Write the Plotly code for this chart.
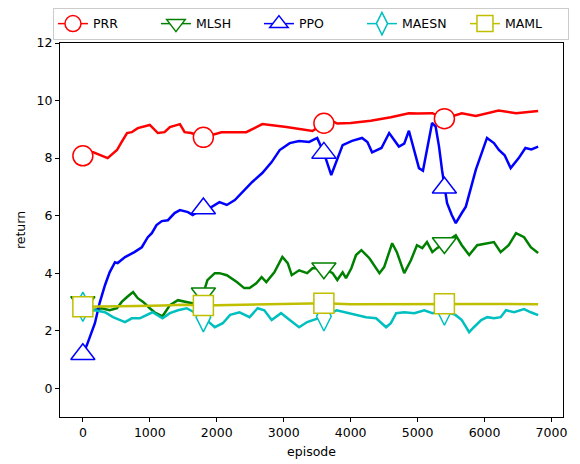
import plotly.graph_objects as go

# ---- data ----
prr_ep = [0, 150, 370, 510, 580, 660, 730, 820, 1000, 1120, 1220, 1300, 1450, 1520, 1620, 1800,
          2070, 2440, 2680, 3040, 3430, 3500, 3600, 3700, 3800, 4000, 4300, 4600, 4870, 5000, 5220,
          5400, 5500, 5660, 5870, 6040, 6210, 6470, 6700, 6800]
prr_val = [8.08, 8.21, 8.0, 8.28, 8.56, 8.87, 8.9, 9.04, 9.15, 8.87, 8.9, 9.08, 9.18, 8.9, 8.87, 8.72,
           8.9, 8.9, 9.18, 9.08, 8.94, 9.05, 9.21, 9.32, 9.2, 9.22, 9.3, 9.42, 9.56, 9.55, 9.56,
           9.37, 9.45, 9.56, 9.46, 9.55, 9.65, 9.56, 9.62, 9.64]

mlsh_ep = [0, 150, 280, 400, 510, 580, 660, 750, 820, 900, 1000, 1070, 1190, 1300, 1420, 1550, 1700,
           1800, 1860, 1970, 2040, 2150, 2300, 2410, 2490, 2590, 2670, 2740, 2860, 2980, 3060, 3120,
           3230, 3350, 3430, 3600, 3730, 3800, 3880, 3930, 4010, 4080, 4160, 4280, 4430, 4500, 4620,
           4690, 4800, 4900, 4990, 5070, 5140, 5220, 5290, 5400, 5570, 5660, 5770, 5890, 6020, 6140,
           6240, 6360, 6470, 6590, 6690, 6800]
mlsh_val = [3.0, 2.71, 2.78, 2.71, 2.78, 3.0, 3.17, 3.34, 3.13, 3.0, 2.78, 2.64, 2.5, 2.89, 3.06, 3.0, 2.92,
            3.3, 3.76, 4.0, 4.0, 3.93, 3.69, 3.48, 3.48, 3.65, 3.86, 3.69, 4.03, 4.56, 4.35, 3.93,
            4.1, 4.0, 4.17, 4.17, 4.0, 3.76, 4.03, 3.83, 4.17, 4.63, 4.8, 4.52, 4.0, 4.21, 5.04,
            4.73, 4.0, 4.45, 4.97, 4.87, 5.08, 4.73, 4.87, 5.05, 5.32, 4.97, 4.63, 4.97, 5.04, 5.08,
            4.73, 4.97, 5.39, 5.25, 4.9, 4.7]

ppo_ep = [0, 60, 180, 250, 330, 400, 480, 520, 630, 770, 880, 970, 1030, 1100, 1180, 1270, 1370, 1450,
          1570, 1640, 1800, 1920, 2040, 2150, 2270, 2390, 2530, 2680, 2820, 2940, 3090, 3230, 3380,
          3500, 3600, 3710, 3800, 3880, 4020, 4170, 4250, 4320, 4460, 4575, 4720, 4800, 4870, 5020,
          5080, 5140, 5216, 5270, 5320, 5365, 5400, 5440, 5510, 5570, 5660, 5720, 5870, 5920, 6036,
          6140, 6214, 6300, 6390, 6510, 6610, 6700, 6800]
ppo_val = [1.18, 1.5, 2.26, 2.96, 3.58, 4.03, 4.38, 4.35, 4.56, 4.73, 4.9, 5.25, 5.39, 5.67, 5.81, 5.84,
           6.09, 6.19, 6.12, 6.02, 6.25, 6.3, 6.47, 6.37, 6.54, 6.82, 7.17, 7.48, 7.86, 8.28, 8.52, 8.59,
           8.56, 8.7, 8.18, 7.41, 7.93, 8.45, 8.6, 8.7, 8.56, 8.2, 8.35, 8.87, 8.4, 8.5, 8.95, 7.65,
           7.56, 8.28, 9.22, 9.09, 8.4, 7.58, 6.97, 6.43, 6.02, 5.74, 6.09, 6.31, 7.6, 7.93, 8.7,
           8.52, 8.28, 8.1, 7.65, 8.0, 8.35, 8.3, 8.4]

maesn_ep = [0, 180, 330, 450, 630, 730, 850, 950, 1040, 1190, 1300, 1420, 1550, 1800, 1970, 2090, 2200,
            2340, 2490, 2610, 2710, 2820, 2960, 3090, 3230, 3350, 3600, 3790, 3930, 4080, 4230, 4380,
            4530, 4600, 4680, 4800, 4950, 5100, 5220, 5400, 5570, 5660, 5770, 5840, 5950, 6040, 6140,
            6240, 6320, 6440, 6590, 6690, 6800]
maesn_val = [2.83, 2.71, 2.64, 2.47, 2.3, 2.43, 2.43, 2.54, 2.64, 2.43, 2.61, 2.71, 2.78, 2.47, 2.12,
             2.26, 2.55, 2.64, 2.47, 2.78, 2.71, 2.37, 2.61, 2.37, 2.12, 2.3, 2.5, 2.71, 2.64, 2.54,
             2.47, 2.43, 2.12, 2.26, 2.61, 2.64, 2.61, 2.71, 2.61, 2.7, 2.54, 2.37, 1.95, 2.12, 2.37,
             2.47, 2.43, 2.47, 2.71, 2.64, 2.75, 2.64, 2.54]

maml_ep = [0, 300, 800, 1200, 1500, 1800, 2200, 2600, 3000, 3600, 4000, 4600, 5000, 5400, 6000, 6800]
maml_val = [2.83, 2.85, 2.86, 2.88, 2.9, 2.88, 2.9, 2.9, 2.92, 2.95, 2.92, 2.93, 2.92, 2.94, 2.93, 2.92]

marker_eps = [0, 1800, 3600, 5400]

series = [
    ("PRR", prr_ep, prr_val, "#FF0000", "circle", 20),
    ("MLSH", mlsh_ep, mlsh_val, "#008000", "triangle-down", 21),
    ("PPO", ppo_ep, ppo_val, "#0000FF", "triangle-up", 21),
    ("MAESN", maesn_ep, maesn_val, "#00BFBF", "diamond-tall", 21),
    ("MAML", maml_ep, maml_val, "#BFBF00", "square", 20),
]

fig = go.Figure()
for name, ep, val, col, sym, ms in series:
    fig.add_trace(go.Scatter(x=ep, y=val, mode="lines", line=dict(color=col, width=2.5),
                             showlegend=False, legendgroup=name, hoverinfo="skip"))
    mx = [e for e in ep if e in marker_eps]
    my = [v for e, v in zip(ep, val) if e in marker_eps]
    fig.add_trace(go.Scatter(x=mx, y=my, mode="markers", showlegend=False, legendgroup=name,
                             marker=dict(symbol=sym, size=ms, color="white",
                                         line=dict(color=col, width=1.5))))
    fig.add_trace(go.Scatter(x=[None], y=[None], mode="lines+markers", name=name, legendgroup=name,
                             line=dict(color=col, width=1.5),
                             marker=dict(symbol=sym, size=ms, color="white",
                                         line=dict(color=col, width=1.5))))

font = dict(family="DejaVu Sans", size=12.5, color="black")
axis_common = dict(showline=True, mirror=True, linecolor="black", linewidth=1, ticks="outside",
                   ticklen=4, tickwidth=1, tickcolor="black", showgrid=False, zeroline=False,
                   tickfont=font, automargin=False)
fig.update_xaxes(range=[-341.5, 7171.5], tickvals=[0, 1000, 2000, 3000, 4000, 5000, 6000, 7000],
                 title=dict(text="episode", font=font, standoff=8), **axis_common)
fig.update_yaxes(range=[-1, 12], tickvals=[0, 2, 4, 6, 8, 10, 12],
                 title=dict(text="return", font=font, standoff=8), **axis_common)

fig.update_layout(
    width=572, height=456,
    margin=dict(l=52, r=17, t=35, b=47, autoexpand=False),
    plot_bgcolor="white", paper_bgcolor="white",
    font=font,
    legend=dict(orientation="h", x=-0.014, y=1.0936, xanchor="left", yanchor="top",
                bgcolor="rgba(255,255,255,0.8)", bordercolor="#cccccc", borderwidth=1,
                font=font, entrywidth=58, tracegroupgap=0),
)

fig.write_html("out.html")
